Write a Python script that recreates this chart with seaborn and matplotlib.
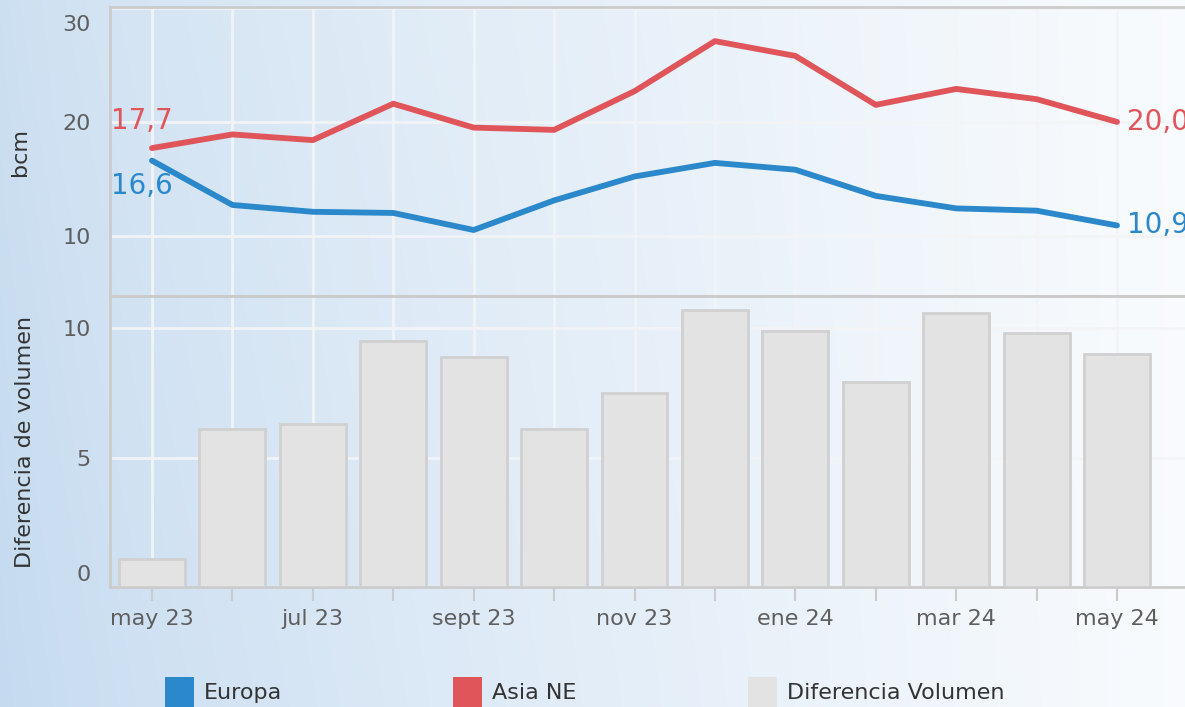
import numpy as np
import pandas as pd
import matplotlib
matplotlib.use("Agg")
import matplotlib.pyplot as plt
from matplotlib.patches import Patch
from matplotlib.transforms import ScaledTranslation
import seaborn as sns

# ---------------- data ----------------
meses = ["may 23", "jun 23", "jul 23", "ago 23", "sept 23", "oct 23", "nov 23",
         "dic 23", "ene 24", "feb 24", "mar 24", "abr 24", "may 24"]
tick_labels = ["may 23", "", "jul 23", "", "sept 23", "", "nov 23",
               "", "ene 24", "", "mar 24", "", "may 24"]
europa = [16.6, 12.7, 12.1, 12.0, 10.5, 13.1, 15.2, 16.4, 15.8, 13.5, 12.4, 12.2, 10.9]
asia_ne = [17.7, 18.9, 18.4, 21.6, 19.5, 19.3, 22.7, 27.1, 25.8, 21.5, 22.9, 22.0, 20.0]
diferencia = [1.1, 6.1, 6.3, 9.5, 8.9, 6.1, 7.5, 10.7, 9.9, 7.9, 10.6, 9.8, 9.0]

C_EU = "#2b88cb"
C_AS = "#e0555a"
C_BAR = "#e3e3e3"
C_BAR_EDGE = "#d0d0d0"
C_SPINE = "#cbcbcb"
C_TICK = "#5e5e5e"

sns.set_theme(style="white")
plt.rcParams["font.family"] = ["DejaVu Sans"]

W, H = 1185, 707
fig = plt.figure(figsize=(W / 100, H / 100), dpi=100)

# background gradient
bg = fig.add_axes([0, 0, 1, 1], zorder=-10)
nx, ny = 400, 200
tx = np.linspace(0, 1, nx)[None, :]
ty = np.linspace(0, 1, ny)[:, None]
left = np.array([0.80, 0.875, 0.945])
right = np.array([0.975, 0.985, 0.995])
t = np.clip(tx ** 0.75 + 0.0 * ty, 0, 1)
img = left[None, None, :] * (1 - t[..., None]) + right[None, None, :] * t[..., None]
shade = (ty * (1 - tx))[..., None] * np.array([-0.03, -0.02, -0.005])
img = np.clip(img + shade, 0, 1)
bg.imshow(img, aspect="auto", extent=[0, 1, 0, 1], origin="upper")
bg.set_axis_off()

def fx(px):
    return px / W

def fy(py):
    return 1 - py / H

x_left, x_right = 110, 1185
ax1 = fig.add_axes([fx(x_left), fy(296), fx(x_right - x_left), (296 - 7) / H])
ax2 = fig.add_axes([fx(x_left), fy(587), fx(x_right - x_left), (587 - 296) / H])

x = np.arange(len(meses))
df = pd.DataFrame({"pos": x, "mes": meses, "Europa": europa, "Asia NE": asia_ne,
                   "Diferencia Volumen": diferencia})

# ---- top panel: lines ----
sns.lineplot(data=df, x="pos", y="Europa", ax=ax1, color=C_EU, linewidth=4.2,
             sort=False, zorder=3)
sns.lineplot(data=df, x="pos", y="Asia NE", ax=ax1, color=C_AS, linewidth=4.2,
             sort=False, zorder=3)

def fmt(v):
    return f"{v:.1f}".replace(".", ",")

ax1.annotate(fmt(asia_ne[0]), (x[0], asia_ne[0]), xytext=(-10, 27),
             textcoords="offset pixels", ha="center", va="center",
             color=C_AS, fontsize=20)
ax1.annotate(fmt(europa[0]), (x[0], europa[0]), xytext=(-10, -25),
             textcoords="offset pixels", ha="center", va="center",
             color=C_EU, fontsize=20)
ax1.annotate(fmt(asia_ne[-1]), (x[-1], asia_ne[-1]), xytext=(10, 0),
             textcoords="offset pixels", ha="left", va="center",
             color=C_AS, fontsize=20, annotation_clip=False)
ax1.annotate(fmt(europa[-1]), (x[-1], europa[-1]), xytext=(10, 0),
             textcoords="offset pixels", ha="left", va="center",
             color=C_EU, fontsize=20, annotation_clip=False)

# ---- bottom panel: bars ----
sns.barplot(data=df, x="pos", y="Diferencia Volumen", ax=ax2, color=C_BAR,
            edgecolor=C_BAR_EDGE, linewidth=2, width=0.82, saturation=1,
            native_scale=True, zorder=3)

px_per = (1117 - 152) / 12
xmin = -(152 - x_left) / px_per
xmax = 12 + (x_right - 1117) / px_per
for ax in (ax1, ax2):
    ax.set_facecolor("none")
    ax.set_xlim(xmin, xmax)
    ax.set_xticks(x)
    ax.grid(True, color="#f3f4f6", linewidth=2, alpha=0.95, zorder=0)
    ax.set_axisbelow(True)
    ax.spines["right"].set_visible(False)
    for s in ["left", "top", "bottom"]:
        ax.spines[s].set_color(C_SPINE)
        ax.spines[s].set_linewidth(2)
    ax.tick_params(axis="y", length=0, labelsize=16, labelcolor=C_TICK, pad=14)

ax1.set_ylim(4.7, 30.1)
ax1.set_yticks([10, 20, 30])
ax1.set_xticklabels([])
ax1.tick_params(axis="x", length=0)
ax1.set_xlabel("")
ax1.set_ylabel("bcm", fontsize=16, color="#333333")
ax1.yaxis.set_label_coords(-0.074, 0.5)

ax2.set_ylim(0, 11.24)
ax2.set_yticks([0, 5, 10])
ax2.set_xticklabels(tick_labels)
ax2.tick_params(axis="x", length=10, width=1.5, color=C_SPINE, labelsize=16,
                labelcolor=C_TICK, pad=6, bottom=True)
ax2.set_xlabel("")
ax2.set_ylabel("Diferencia de volumen", fontsize=16, color="#333333")
ax2.yaxis.set_label_coords(-0.070, 0.5)

# nudge edge tick labels inward like the reference
ax1.yaxis.get_major_ticks()[2].label1.set_transform(
    ax1.yaxis.get_major_ticks()[2].label1.get_transform()
    + ScaledTranslation(0, -15 / 100, fig.dpi_scale_trans))
ax2.yaxis.get_major_ticks()[0].label1.set_transform(
    ax2.yaxis.get_major_ticks()[0].label1.get_transform()
    + ScaledTranslation(0, 14 / 100, fig.dpi_scale_trans))

handles = [Patch(facecolor=C_EU, edgecolor="none", label="Europa"),
           Patch(facecolor=C_AS, edgecolor="none", label="Asia NE"),
           Patch(facecolor=C_BAR, edgecolor="none", label="Diferencia Volumen")]
fig.legend(handles=handles, loc="center left", bbox_to_anchor=(fx(165), fy(692)),
           ncol=3, frameon=False, fontsize=16, handlelength=1.3, handleheight=1.7,
           handletextpad=0.45, columnspacing=7.7, borderpad=0, borderaxespad=0,
           labelcolor="#333333")

fig.savefig("out.png", dpi=100)
